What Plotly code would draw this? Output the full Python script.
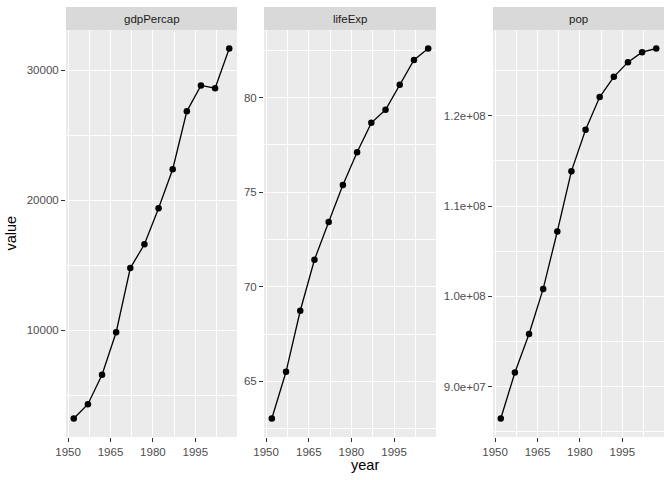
import plotly.graph_objects as go
from plotly.subplots import make_subplots

years = [1952, 1957, 1962, 1967, 1972, 1977, 1982, 1987, 1992, 1997, 2002, 2007]
gdpPercap = [3216.956, 4317.694, 6576.649, 9847.789, 14778.786, 16610.377,
             19384.106, 22375.942, 26824.895, 28816.585, 28604.592, 31656.068]
lifeExp = [63.03, 65.5, 68.73, 71.43, 73.42, 75.38, 77.11, 78.67, 79.36, 80.69, 82.0, 82.603]
pop = [86459025, 91563009, 95831757, 100825279, 107188273, 113872473,
       118454974, 122091325, 124329269, 125956499, 127065841, 127467972]

facets = ["gdpPercap", "lifeExp", "pop"]
series = [gdpPercap, lifeExp, pop]

x_ticks = [1950, 1965, 1980, 1995]
x_minor = [1957.5, 1972.5, 1987.5, 2002.5]

y_ticks = [[10000, 20000, 30000], [65, 70, 75, 80], [9.0e7, 1.0e8, 1.1e8, 1.2e8]]
y_ticktext = [["10000", "20000", "30000"], ["65", "70", "75", "80"],
              ["9.0e+07", "1.0e+08", "1.1e+08", "1.2e+08"]]
y_minor = [[5000, 15000, 25000], [62.5, 67.5, 72.5, 77.5, 82.5],
           [8.5e7, 9.5e7, 1.05e8, 1.15e8, 1.25e8]]

W, H = 672, 480
panels_px = [(66, 237), (264, 436), (493, 664)]
panel_top, panel_bot = 30, 437
strip_top = 7

FONT = "Liberation Sans"

fig = make_subplots(rows=1, cols=3)

def expand(vals, f=0.05):
    lo, hi = min(vals), max(vals)
    d = (hi - lo) * f
    return [lo - d, hi + d]

xr = expand(years)
for i, (name, vals) in enumerate(zip(facets, series)):
    col = i + 1
    fig.add_trace(go.Scatter(x=years, y=vals, mode="lines+markers",
                             line=dict(color="black", width=1.3),
                             marker=dict(color="black", size=6.5),
                             showlegend=False, hoverinfo="skip"), row=1, col=col)
    x0, x1 = panels_px[i]
    dom_x = [x0 / W, x1 / W]
    dom_y = [1 - panel_bot / H, 1 - panel_top / H]
    axis_common = dict(showline=False, zeroline=False, ticks="outside", ticklen=4,
                       tickcolor="#333333", tickwidth=1, automargin=False,
                       gridcolor="white", gridwidth=1.3,
                       tickfont=dict(family=FONT, size=11.5, color="#4D4D4D"))
    fig.update_xaxes(domain=dom_x, range=xr, tickvals=x_ticks,
                     ticktext=[str(t) for t in x_ticks],
                     minor=dict(tickvals=x_minor, showgrid=True, gridcolor="white",
                                gridwidth=0.6, ticks=""),
                     **axis_common, row=1, col=col)
    fig.update_yaxes(domain=dom_y, range=expand(vals), tickvals=y_ticks[i],
                     ticktext=y_ticktext[i],
                     minor=dict(tickvals=y_minor[i], showgrid=True, gridcolor="white",
                                gridwidth=0.6, ticks=""),
                     **axis_common, row=1, col=col)
    # strip
    fig.add_shape(type="rect", xref="paper", yref="paper",
                  x0=x0 / W, x1=x1 / W, y0=1 - panel_top / H, y1=1 - strip_top / H,
                  fillcolor="#D9D9D9", line=dict(width=0), layer="below")
    fig.add_annotation(text=name, xref="paper", yref="paper",
                       x=(x0 + x1) / 2 / W, y=1 - (panel_top + strip_top) / 2 / H,
                       showarrow=False, xanchor="center", yanchor="middle",
                       font=dict(family=FONT, size=11.5, color="#1A1A1A"))

fig.add_annotation(text="year", xref="paper", yref="paper",
                   x=(panels_px[0][0] + panels_px[2][1]) / 2 / W, y=1 - 465 / H,
                   showarrow=False, xanchor="center", yanchor="middle",
                   font=dict(family=FONT, size=14.5, color="black"))
fig.add_annotation(text="value", xref="paper", yref="paper",
                   x=10 / W, y=1 - (panel_top + panel_bot) / 2 / H, textangle=-90,
                   showarrow=False, xanchor="center", yanchor="middle",
                   font=dict(family=FONT, size=14.5, color="black"))

fig.update_layout(width=W, height=H, margin=dict(l=0, r=0, t=0, b=0),
                  paper_bgcolor="white", plot_bgcolor="#EBEBEB",
                  font=dict(family=FONT), hovermode=False)

fig.write_html("out.html", config={"displayModeBar": False},
               post_script="document.body.style.margin='0';document.body.style.overflow='hidden';")
